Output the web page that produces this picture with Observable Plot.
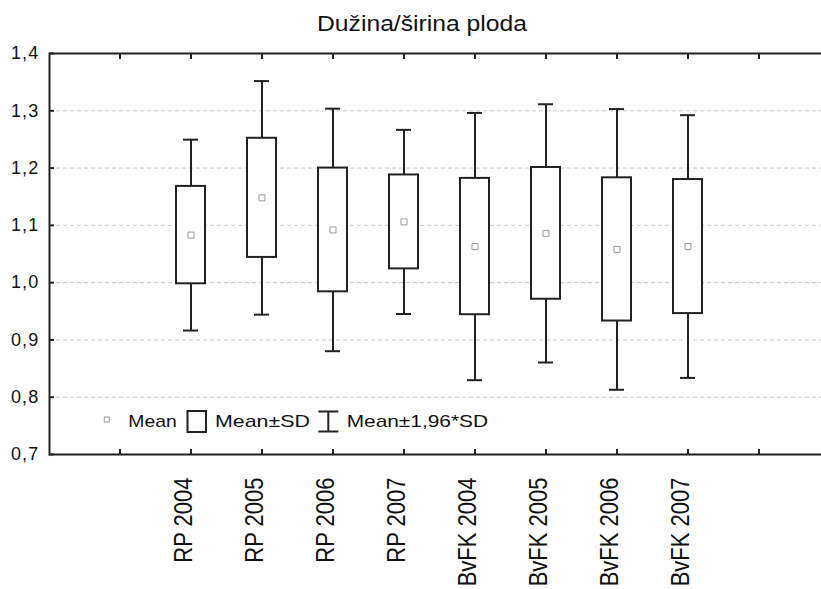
<!DOCTYPE html>
<html><head><meta charset="utf-8">
<script src="https://cdn.jsdelivr.net/npm/d3@7"></script>
<script src="https://cdn.jsdelivr.net/npm/@observablehq/plot@0.6"></script>
<style>
body{margin:0;background:#fff;}
#wrap{position:relative;width:821px;height:589px;overflow:hidden;background:#fff;}
#wrap svg{position:absolute;left:0;top:0;overflow:hidden;}
g[aria-label="y-axis tick label"] text{letter-spacing:1.2px;}
</style></head><body><div id="wrap"></div>
<script>
const categories = ["RP 2004","RP 2005","RP 2006","RP 2007","BvFK 2004","BvFK 2005","BvFK 2006","BvFK 2007"];
const means = [1.083, 1.148, 1.092, 1.106, 1.063, 1.086, 1.058, 1.063];
const sds = [0.085, 0.104, 0.108, 0.082, 0.119, 0.115, 0.125, 0.117];
const yTicks = [0.7, 0.8, 0.9, 1.0, 1.1, 1.2, 1.3, 1.4];
const gridValues = [0.8, 0.9, 1.0, 1.1, 1.2, 1.3];
const slots = ["", ...categories, " "];
const title = "Dužina/širina ploda";
const legendLabels = ["Mean", "Mean±SD", "Mean±1,96*SD"];

const rows = categories.map((c, i) => ({
  cat: c, mean: means[i],
  lo1: means[i] - sds[i], hi1: means[i] + sds[i],
  lo2: means[i] - 1.96 * sds[i], hi2: means[i] + 1.96 * sds[i]
}));
const ink = "#222";
const font = "'Liberation Sans', Arial, sans-serif";
const fmt = d => d.toFixed(1).replace(".", ",");

const chart = Plot.plot({
  width: 821, height: 589,
  marginLeft: 49, marginRight: -9, marginTop: 53, marginBottom: 135,
  style: {fontFamily: font, fontSize: "18px", color: "#111", background: "white", overflow: "hidden"},
  x: {type: "band", domain: slots, paddingInner: 0.59, paddingOuter: 0.795, align: 0.5},
  y: {domain: [0.7, 1.4]},
  marks: [
    Plot.ruleY(gridValues, {stroke: "#c8c8c8", strokeDasharray: "4,3", strokeWidth: 1}),
    Plot.ruleX(rows, {x: "cat", y1: "hi1", y2: "hi2", stroke: ink, strokeWidth: 2}),
    Plot.ruleX(rows, {x: "cat", y1: "lo1", y2: "lo2", stroke: ink, strokeWidth: 2}),
    Plot.barY(rows, {x: "cat", y1: "lo1", y2: "hi1", fill: "white", stroke: ink, strokeWidth: 2}),
    Plot.tickY(rows, {x: "cat", y: "hi2", stroke: ink, strokeWidth: 2, insetLeft: 7, insetRight: 7}),
    Plot.tickY(rows, {x: "cat", y: "lo2", stroke: ink, strokeWidth: 2, insetLeft: 7, insetRight: 7}),
    Plot.dot(rows, {x: "cat", y: "mean", symbol: "square", r: 3.4, stroke: "#9a9a9a", fill: "white", strokeWidth: 1}),
    Plot.frame({stroke: ink, strokeWidth: 2}),
    Plot.axisY({anchor: "left", ticks: yTicks, tickSize: -5, tickPadding: 15, tickFormat: fmt, fontSize: 18, label: null, strokeWidth: 2, stroke: ink}),
    Plot.axisX({anchor: "bottom", tickSize: -5, tickPadding: 28, tickRotate: -90, fontSize: 22, label: null, strokeWidth: 2, stroke: ink}),
    Plot.axisX({anchor: "top", tickSize: -5, tickFormat: () => "", label: null, strokeWidth: 2, stroke: ink})
  ]
});
document.getElementById("wrap").appendChild(chart);

// widen the rotated category labels like the reference's stretched rendering
d3.select(chart).selectAll('g[aria-label="x-axis tick label"] text').each(function () {
  const t = this.getAttribute("transform") || "";
  this.setAttribute("transform", "translate(-7,0) " + t + " scale(1,1.17)");
});

// title and legend overlay
const ov = d3.select("#wrap").append("svg").attr("width", 821).attr("height", 589);
ov.append("text").attr("x", 317).attr("y", 30.7)
  .attr("textLength", 210).attr("lengthAdjust", "spacingAndGlyphs")
  .style("font", `22px ${font}`).attr("fill", "#111").text(title);

const lg = ov.append("g");
lg.append("rect").attr("x", 104.3).attr("y", 417).attr("width", 5).attr("height", 5)
  .attr("fill", "white").attr("stroke", "#9a9a9a").attr("stroke-width", 1);
lg.append("text").attr("x", 128.3).attr("y", 427.3).attr("textLength", 48.4).attr("lengthAdjust", "spacingAndGlyphs")
  .style("font", `17px ${font}`).attr("fill", "#111").text(legendLabels[0]);
lg.append("rect").attr("x", 187.5).attr("y", 411).attr("width", 18.5).attr("height", 21)
  .attr("fill", "white").attr("stroke", ink).attr("stroke-width", 2);
lg.append("text").attr("x", 215).attr("y", 427.3).attr("textLength", 95).attr("lengthAdjust", "spacingAndGlyphs")
  .style("font", `17px ${font}`).attr("fill", "#111").text(legendLabels[1]);
const ib = lg.append("g").attr("stroke", ink).attr("stroke-width", 2);
ib.append("line").attr("x1", 328.3).attr("x2", 328.3).attr("y1", 411).attr("y2", 432);
ib.append("line").attr("x1", 318.3).attr("x2", 338.3).attr("y1", 411.5).attr("y2", 411.5);
ib.append("line").attr("x1", 318.3).attr("x2", 338.3).attr("y1", 431.5).attr("y2", 431.5);
lg.append("text").attr("x", 346.7).attr("y", 427.3).attr("textLength", 141.3).attr("lengthAdjust", "spacingAndGlyphs")
  .style("font", `17px ${font}`).attr("fill", "#111").text(legendLabels[2]);
</script>
</body></html>
